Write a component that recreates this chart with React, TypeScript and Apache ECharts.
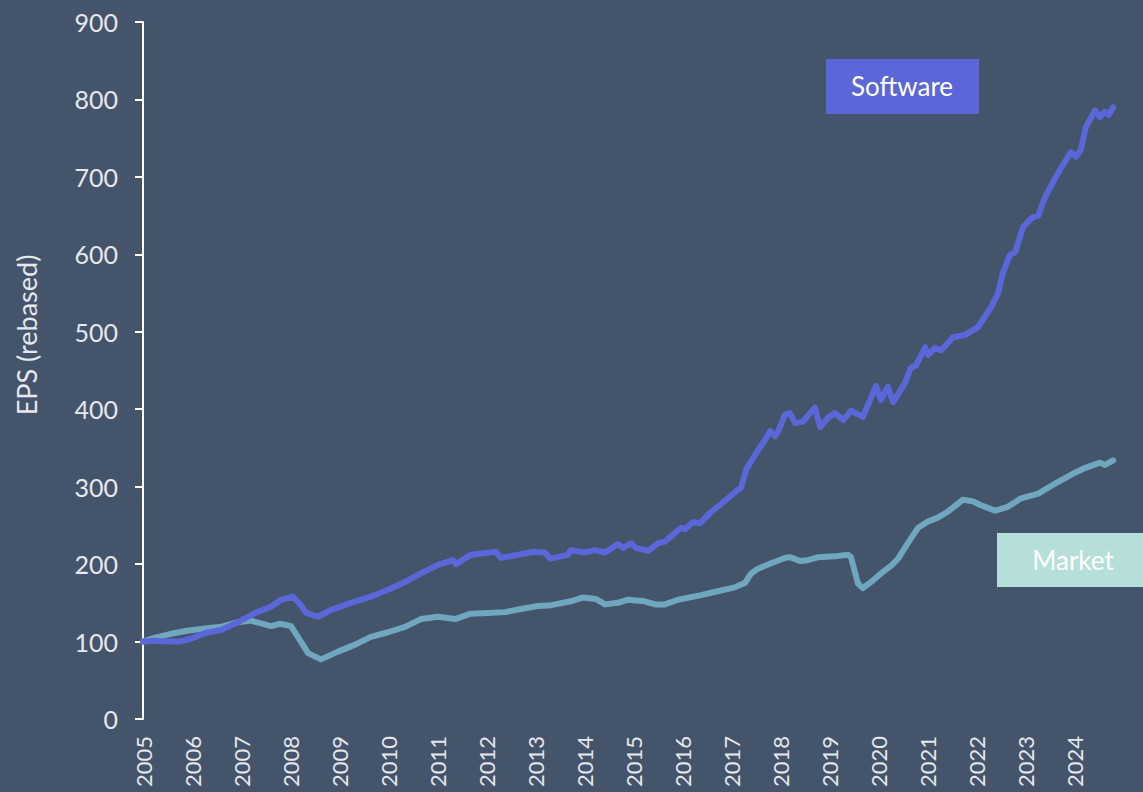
import React, { useEffect, useRef } from "react";
import * as echarts from "echarts";

const yearTicks = [2005, 2006, 2007, 2008, 2009, 2010, 2011, 2012, 2013, 2014, 2015, 2016, 2017, 2018, 2019, 2020, 2021, 2022, 2023, 2024];
const yTicks = [0, 100, 200, 300, 400, 500, 600, 700, 800, 900];

const softwareDates = [
  2005.0, 2005.25, 2005.5, 2005.75, 2006.0, 2006.27, 2006.59, 2006.94, 2007.29, 2007.61,
  2007.82, 2008.06, 2008.22, 2008.33, 2008.57, 2008.84, 2009.24, 2009.65, 2010.0, 2010.35,
  2010.67, 2011.02, 2011.33, 2011.39, 2011.69, 2012.2, 2012.3, 2012.65, 2012.96, 2013.2,
  2013.31, 2013.67, 2013.73, 2014.02, 2014.22, 2014.43, 2014.69, 2014.8, 2014.96, 2015.06,
  2015.31, 2015.51, 2015.65, 2015.98, 2016.06, 2016.22, 2016.37, 2016.59, 2016.94, 2017.14,
  2017.2, 2017.31, 2017.55, 2017.69, 2017.8, 2017.9, 2017.96, 2018.1, 2018.2, 2018.31,
  2018.47, 2018.71, 2018.82, 2018.98, 2019.12, 2019.29, 2019.45, 2019.69, 2019.84, 2019.96,
  2020.06, 2020.2, 2020.31, 2020.55, 2020.67, 2020.78, 2020.96, 2021.02, 2021.16, 2021.29,
  2021.53, 2021.78, 2022.04, 2022.31, 2022.45, 2022.55, 2022.69, 2022.8, 2022.96, 2023.06,
  2023.16, 2023.27, 2023.41, 2023.57, 2023.73, 2023.94, 2024.04, 2024.14, 2024.24, 2024.43,
  2024.53, 2024.63, 2024.71, 2024.8,
];
const softwareValues = [
  100, 101, 100, 100, 104, 111, 115, 125, 137, 145,
  154, 158, 147, 137, 132, 141, 150, 158, 167, 177,
  188, 199, 205, 200, 212, 216, 208, 212, 216, 215,
  207, 212, 218, 215, 218, 215, 226, 221, 227, 221,
  217, 227, 229, 247, 245, 254, 253, 267, 285, 296,
  298, 322, 347, 360, 372, 365, 371, 393, 395, 382,
  384, 402, 377, 389, 395, 386, 398, 390, 412, 430,
  412, 429, 409, 434, 453, 457, 480, 470, 479, 476,
  493, 496, 506, 532, 550, 576, 599, 603, 635, 642,
  648, 650, 674, 693, 711, 732, 726, 735, 764, 786,
  777, 784, 780, 790,
];

const marketDates = [
  2005.0, 2005.25, 2005.57, 2005.9, 2006.27, 2006.59, 2006.94, 2007.2, 2007.61, 2007.8,
  2008.02, 2008.16, 2008.37, 2008.63, 2008.98, 2009.33, 2009.65, 2010.0, 2010.35, 2010.67,
  2011.02, 2011.37, 2011.69, 2012.04, 2012.39, 2012.71, 2013.06, 2013.33, 2013.73, 2013.98,
  2014.24, 2014.43, 2014.69, 2014.9, 2015.24, 2015.45, 2015.65, 2015.92, 2016.39, 2016.73,
  2017.08, 2017.29, 2017.41, 2017.55, 2017.82, 2018.1, 2018.2, 2018.41, 2018.57, 2018.78,
  2019.12, 2019.39, 2019.45, 2019.59, 2019.69, 2019.86, 2020.06, 2020.27, 2020.41, 2020.61,
  2020.82, 2021.02, 2021.22, 2021.43, 2021.73, 2021.94, 2022.1, 2022.39, 2022.65, 2022.92,
  2023.27, 2023.67, 2024.02, 2024.22, 2024.53, 2024.63, 2024.8,
];
const marketValues = [
  100, 105, 110, 114, 117, 119, 125, 127, 120, 123,
  120, 106, 85, 77, 87, 96, 106, 112, 119, 129,
  132, 129, 136, 137, 138, 142, 146, 147, 152, 157,
  155, 148, 150, 154, 152, 148, 148, 154, 160, 165,
  170, 176, 188, 194, 201, 208, 209, 204, 205, 209,
  210, 212, 209, 175, 169, 177, 188, 198, 207, 227,
  247, 255, 260, 268, 283, 281, 276, 269, 274, 285,
  291, 306, 318, 324, 331, 328, 334,
];

const seriesNames = ["Software", "Market"];
const yAxisTitle = "EPS (rebased)";

const BG = "#44546A";
const SOFTWARE_COLOR = "#5B67D8";
const MARKET_COLOR = "#6FA7BF";
const MARKET_BOX = "#B6DFD9";
const TEXT_COLOR = "#E6E8EC";
const FONT = "Lato, 'Open Sans', sans-serif";

export default function App() {
  const ref = useRef<HTMLDivElement>(null);

  useEffect(() => {
    if (!ref.current) return;
    const chart = echarts.init(ref.current, undefined, { renderer: "svg" });
    const zip = (d: number[], v: number[]) => d.map((x, i) => [x, v[i]]);
    chart.setOption({
      animation: false,
      backgroundColor: BG,
      grid: { left: 143, right: 20, top: 22, bottom: 73, containLabel: false },
      xAxis: {
        type: "value",
        min: yearTicks[0],
        max: yearTicks[yearTicks.length - 1] + 1,
        interval: 1,
        axisLine: { show: false },
        axisTick: { show: false },
        splitLine: { show: false },
        axisLabel: {
          rotate: 90,
          margin: 17,
          color: TEXT_COLOR,
          fontSize: 22,
          fontFamily: FONT,
          showMaxLabel: false,
          formatter: (v: number) => (yearTicks.includes(v) ? String(v) : ""),
        },
      },
      yAxis: {
        type: "value",
        min: yTicks[0],
        max: yTicks[yTicks.length - 1],
        interval: 100,
        axisLine: { show: true, lineStyle: { color: "#FFFFFF", width: 2 } },
        axisTick: { show: true, length: 8, lineStyle: { color: "#FFFFFF", width: 2 } },
        splitLine: { show: false },
        axisLabel: {
          margin: 25,
          color: TEXT_COLOR,
          fontSize: 25,
          fontFamily: FONT,
        },
      },
      graphic: [
        {
          type: "text",
          x: 26,
          y: 335,
          rotation: Math.PI / 2,
          style: {
            text: yAxisTitle,
            fill: TEXT_COLOR,
            font: `27px ${FONT}`,
            align: "center",
            verticalAlign: "middle",
          },
        },
        {
          type: "rect",
          shape: { x: 826, y: 59, width: 153, height: 55 },
          style: { fill: SOFTWARE_COLOR },
        },
        {
          type: "text",
          x: 902,
          y: 86,
          style: {
            text: seriesNames[0],
            fill: "#FFFFFF",
            font: `26px ${FONT}`,
            align: "center",
            verticalAlign: "middle",
          },
        },
        {
          type: "rect",
          shape: { x: 997, y: 533, width: 146, height: 54 },
          style: { fill: MARKET_BOX },
        },
        {
          type: "text",
          x: 1073,
          y: 560,
          style: {
            text: seriesNames[1],
            fill: "#FFFFFF",
            font: `26px ${FONT}`,
            align: "center",
            verticalAlign: "middle",
          },
        },
      ],
      series: [
        {
          name: seriesNames[1],
          type: "line",
          data: zip(marketDates, marketValues),
          showSymbol: false,
          symbol: "none",
          lineStyle: { color: MARKET_COLOR, width: 6, cap: "round", join: "round" },
          z: 2,
        },
        {
          name: seriesNames[0],
          type: "line",
          data: zip(softwareDates, softwareValues),
          showSymbol: false,
          symbol: "none",
          lineStyle: { color: SOFTWARE_COLOR, width: 6, cap: "round", join: "round" },
          z: 3,
        },
      ],
    });
    return () => chart.dispose();
  }, []);

  return (
    <div
      ref={ref}
      style={{ position: "fixed", left: 0, top: 0, width: 1143, height: 792 }}
    />
  );
}
